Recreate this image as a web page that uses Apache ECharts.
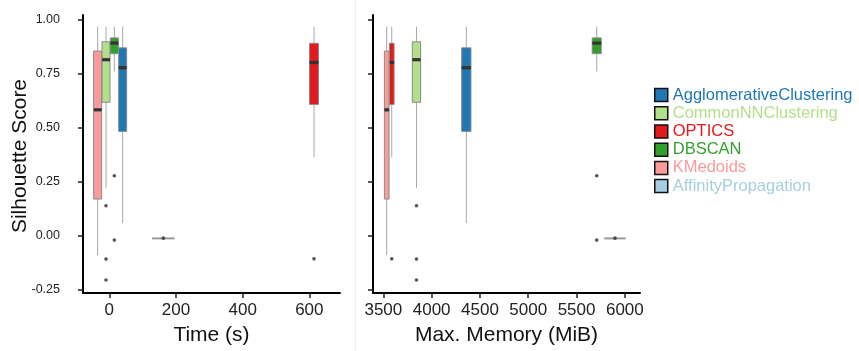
<!DOCTYPE html>
<html>
<head>
<meta charset="utf-8">
<script src="https://cdn.jsdelivr.net/npm/echarts@6/dist/echarts.min.js"></script>
<style>html,body{margin:0;padding:0;background:#fff;}#c{width:859px;height:351px;}</style>
</head>
<body>
<div id="c"></div>
<script>
// ---------------- data ----------------
const algorithms = ['AgglomerativeClustering','CommonNNClustering','OPTICS','DBSCAN','KMedoids','AffinityPropagation'];
// box stats per algorithm: [lower whisker, Q1, median, Q3, upper whisker]
const statsAgglomerative = [0.056, 0.481, 0.776, 0.868, 0.966];
const statsCommonNN      = [0.218, 0.616, 0.813, 0.896, 0.966];
const statsOPTICS        = [0.361, 0.606, 0.800, 0.889, 0.966];
const statsDBSCAN        = [0.758, 0.841, 0.890, 0.914, 0.966];
const statsKMedoids      = [-0.092, 0.168, 0.581, 0.853, 0.966];
const statsAffinity      = [-0.013, -0.013, -0.013, -0.013, -0.013];
// outliers per algorithm
const outAgglomerative = [];
const outCommonNN      = [0.137, -0.110, -0.207];
const outOPTICS        = [-0.109];
const outDBSCAN        = [0.276, -0.022];
const outKMedoids      = [];
const outAffinity      = [-0.013];
// x positions (box centres) per algorithm
const timeX   = [40, -10, 614, 15, -35, 162];        // seconds
const memoryX = [4359, 3843, 3587, 5709, 3535, 5898]; // MiB
const yTicks    = [-0.25, 0, 0.25, 0.5, 0.75, 1];
const timeTicks = [0, 200, 400, 600];
const memTicks  = [3500, 4000, 4500, 5000, 5500, 6000];
const yTitle = 'Silhouette Score';

// ---------------- styles ----------------
const colors = ['#1F78B4','#B2DF8A','#E31A1C','#33A02C','#FB9A99','#A6CEE3'];
const boxWidthTime = [8, 8, 9, 8, 8, 21];
const boxWidthMem  = [9.3, 8.3, 4.7, 9, 4.7, 20];
const FONT = '"Liberation Sans", Arial, sans-serif';

const allStats = [statsAgglomerative, statsCommonNN, statsOPTICS, statsDBSCAN, statsKMedoids, statsAffinity];
const allOut = [outAgglomerative, outCommonNN, outOPTICS, outDBSCAN, outKMedoids, outAffinity];

function makeRender(width) {
  return function (params, api) {
    const x = api.value(0);
    const lo = api.coord([x, api.value(1)]);
    const q1 = api.coord([x, api.value(2)]);
    const md = api.coord([x, api.value(3)]);
    const q3 = api.coord([x, api.value(4)]);
    const hi = api.coord([x, api.value(5)]);
    const cx = md[0];
    const flat = Math.abs(q1[1] - q3[1]) < 0.5;
    const children = [
      {type:'line', shape:{x1:cx, y1:hi[1], x2:cx, y2:q3[1]}, style:{stroke:'#a6a6a6', lineWidth:1}},
      {type:'line', shape:{x1:cx, y1:q1[1], x2:cx, y2:lo[1]}, style:{stroke:'#a6a6a6', lineWidth:1}},
      {type:'rect', shape:{x:cx - width/2, y:q3[1], width:width, height:Math.max(q1[1]-q3[1], 0.5)},
        style:{fill:api.visual('color'), stroke: flat ? '#999' : '#8a8a8a', lineWidth: flat ? 1.5 : 1}}
    ];
    if (!flat) {
      children.push({type:'rect', shape:{x:cx - width/2, y:md[1]-1.6, width:width, height:3.2}, style:{fill:'#333'}});
    }
    return {type:'group', children};
  };
}

const series = [];
function addPanel(xs, widths, axisIndex) {
  algorithms.forEach((name, i) => {
    series.push({
      type:'custom', name, xAxisIndex:axisIndex, yAxisIndex:axisIndex,
      itemStyle:{color:colors[i]}, clip:false, z:2,
      renderItem: makeRender(widths[i]),
      encode:{x:0, y:[1,2,3,4,5]},
      data:[[xs[i]].concat(allStats[i])]
    });
  });
  const pts = [];
  algorithms.forEach((name, i) => allOut[i].forEach(v => pts.push([xs[i], v])));
  series.push({type:'scatter', name:'outliers'+axisIndex, xAxisIndex:axisIndex, yAxisIndex:axisIndex,
    symbolSize:3.6, itemStyle:{color:'#2b2b2b'}, data:pts, z:5, silent:true});
}
addPanel(timeX, boxWidthTime, 0);
addPanel(memoryX, boxWidthMem, 1);

const axisLineStyle = {show:true, onZero:false, lineStyle:{color:'#000', width:2}};
const tickStyle = {show:true, length:5, lineStyle:{color:'#222', width:1.5}};

function yAxis(idx, showLabel) {
  return {
    type:'value', gridIndex:idx, min:-0.267, max:1.02,
    axisLine:axisLineStyle, splitLine:{show:false},
    axisTick:Object.assign({customValues:yTicks}, tickStyle),
    axisLabel:{show:showLabel, customValues:yTicks, formatter:v => v.toFixed(2), fontSize:12.5, color:'#222', fontFamily:FONT, margin:23}
  };
}
function xAxis(idx, min, max, ticks, name) {
  return {
    type:'value', gridIndex:idx, min, max,
    axisLine:axisLineStyle, splitLine:{show:false},
    axisTick:Object.assign({customValues:ticks}, tickStyle),
    axisLabel:{customValues:ticks, formatter:v => String(v), fontSize:17, color:'#222', fontFamily:FONT, margin:9},
    name, nameLocation:'middle', nameGap:32,
    nameTextStyle:{fontSize:21, color:'#111', fontFamily:FONT}
  };
}

const option = {
  animation:false,
  backgroundColor:'#fff',
  grid:[
    {left:83, right:519, top:15, bottom:55},
    {left:373, right:219, top:15, bottom:55}
  ],
  xAxis:[xAxis(0, -79, 692, timeTicks, 'Time (s)'), xAxis(1, 3393, 6157, memTicks, 'Max. Memory (MiB)')],
  yAxis:[yAxis(0, true), yAxis(1, false)],
  legend:{
    orient:'vertical', left:649, top:81, itemWidth:13, itemHeight:13, itemGap:0, icon:'rect',
    data: algorithms.map((n, i) => ({name:n, itemStyle:{color:colors[i], borderColor:'#111', borderWidth:1.5},
      textStyle:{color:colors[i], fontSize:16.5, lineHeight:18.2, fontFamily:FONT}})),
    selectedMode:false
  },
  graphic:[
    {type:'line', shape:{x1:355.5, y1:0, x2:355.5, y2:351}, style:{stroke:'#eeeeee', lineWidth:1}, z:-1},
    {type:'text', x:20, y:156, rotation:Math.PI/2,
      style:{text:yTitle, fontSize:21, fill:'#111', fontFamily:FONT, align:'center', verticalAlign:'middle'}}
  ],
  series
};
const chart = echarts.init(document.getElementById('c'), null, {renderer:'canvas'});
chart.setOption(option);
</script>
</body>
</html>
